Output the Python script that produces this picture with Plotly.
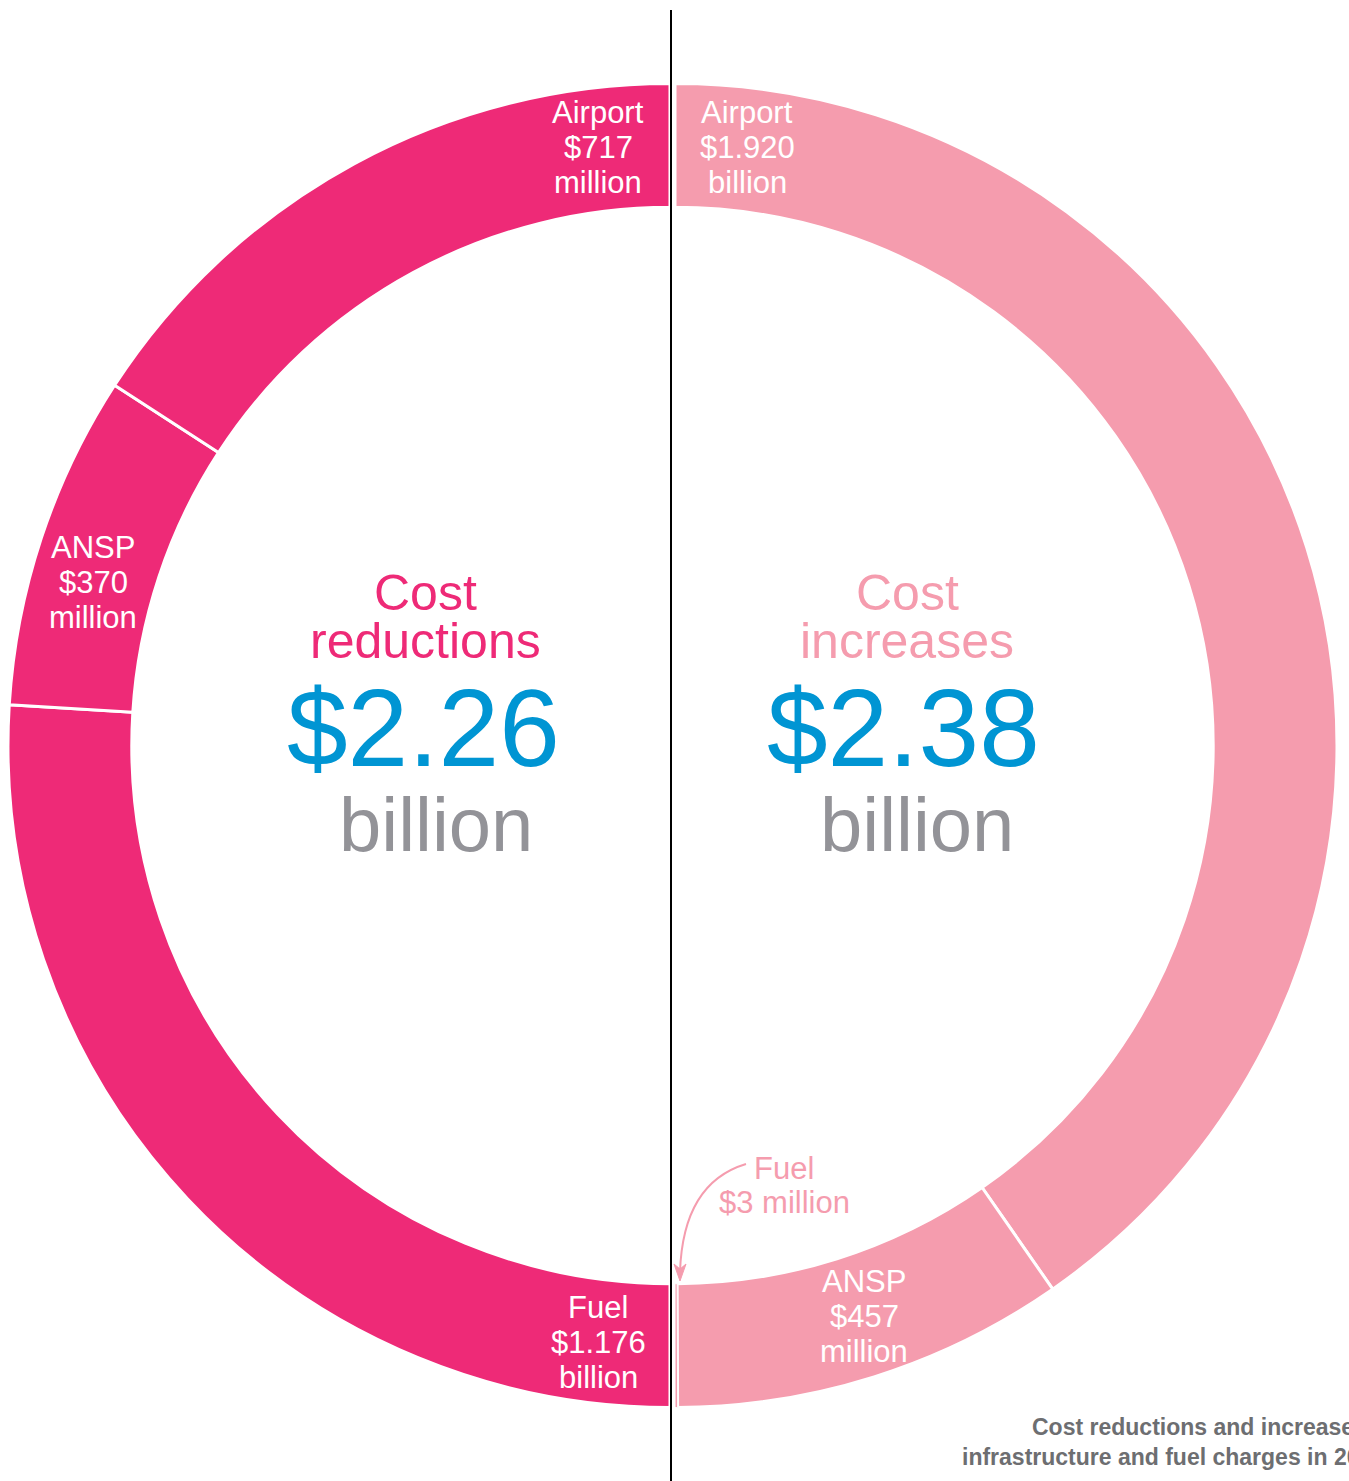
import plotly.graph_objects as go

# ---- data ----
categories = ["Airport", "ANSP", "Fuel"]
reduction_values = [717, 370, 1176]          # $ million
increase_values = [1920, 457, 3]             # $ million
reduction_labels = [["$717", "million"], ["$370", "million"], ["$1.176", "billion"]]
increase_labels = [["$1.920", "billion"], ["$457", "million"], ["$3 million"]]
reduction_total = "$2.26"
increase_total = "$2.38"

W, H = 1349, 1481
MAGENTA = "#EE2A77"
PINK = "#F59CAE"
BLUE = "#0095D3"
GREY = "#939398"
FONT = "Liberation Sans, Arial, sans-serif"

R = 662
CY = 745.5
HOLE = 0.813
CLEAR = "rgba(0,0,0,0)"


def dom(cx):
    return dict(x=[(cx - R) / W, (cx + R) / W], y=[1 - (CY + R) / H, 1 - (CY - R) / H])


fig = go.Figure()

# left half: clockwise from 12 o'clock -> hidden pad (right half), then Fuel, ANSP, Airport
left_vals = [sum(reduction_values)] + reduction_values[::-1]
fig.add_trace(go.Pie(
    values=left_vals,
    labels=["pad_l"] + [c + " (reduction)" for c in categories[::-1]],
    sort=False, direction="clockwise", rotation=0, hole=HOLE,
    marker=dict(colors=[CLEAR] + [MAGENTA] * 3,
                line=dict(color=[CLEAR] + ["white"] * 3, width=[0, 3, 3, 3])),
    textinfo="none", hoverinfo="skip", showlegend=False, domain=dom(670),
))
# right half: clockwise from 12 o'clock
fig.add_trace(go.Pie(
    values=increase_values + [sum(increase_values)],
    labels=[c + " (increase)" for c in categories] + ["pad_r"],
    sort=False, direction="clockwise", rotation=0, hole=HOLE,
    marker=dict(colors=[PINK] * 3 + [CLEAR],
                line=dict(color=["white"] * 3 + [CLEAR], width=[3, 3, 1, 0])),
    textinfo="none", hoverinfo="skip", showlegend=False, domain=dom(675),
))
# invisible trace to establish pixel-like axes
fig.add_trace(go.Scatter(x=[0, W], y=[0, H], mode="markers", marker=dict(opacity=0),
                         hoverinfo="skip", showlegend=False))

ann = []


def txt(x, y, t, size, color, **kw):
    d = dict(x=x, y=y, xref="x", yref="y", text=t, showarrow=False,
             font=dict(family=FONT, size=size, color=color), xanchor="center", yanchor="middle")
    d.update(kw)
    ann.append(d)


def block(x, y0, lines, size, color, step=35):
    for i, line in enumerate(lines):
        txt(x, y0 + i * step, line, size, color)


# slice labels
block(598, 112, [categories[0]] + reduction_labels[0], 31, "white")
block(93, 547, [categories[1]] + reduction_labels[1], 31, "white")
block(598, 1307, [categories[2]] + reduction_labels[2], 31, "white")
block(747, 112, [categories[0]] + increase_labels[0], 31, "white")
block(864, 1281, [categories[1]] + increase_labels[1], 31, "white")
block(784, 1168, [categories[2]] + increase_labels[2], 31, PINK, step=34)

# centre texts
txt(425, 593, "Cost", 50, MAGENTA)
txt(425, 641, "reductions", 50, MAGENTA)
txt(423, 728, reduction_total, 109, BLUE)
txt(436, 824, "billion", 76, GREY)
txt(907, 593, "Cost", 50, PINK)
txt(907, 641, "increases", 50, PINK)
txt(903, 728, increase_total, 109, BLUE)
txt(917, 824, "billion", 76, GREY)

# footnote (cut at right edge as in the source)
txt(1030, 1427, "<b>Cost reductions and increases in</b>", 23, "#6D6E71", xanchor="left")
txt(960, 1457, "<b>infrastructure and fuel charges in 2020</b>", 23, "#6D6E71", xanchor="left")

shapes = [
    dict(type="line", xref="x", yref="y", x0=671, x1=671, y0=10, y1=H,
         line=dict(color="black", width=2), layer="above"),
    dict(type="path", xref="x", yref="y", path="M 746 1164 Q 683 1183 680 1272",
         line=dict(color=PINK, width=2), layer="above"),
    dict(type="path", xref="x", yref="y", path="M 680 1281 L 674 1264 L 680 1269 L 686 1264 Z",
         fillcolor=PINK, line=dict(color=PINK, width=1), layer="above"),
]

fig.update_layout(
    width=W, height=H, margin=dict(l=0, r=0, t=0, b=0),
    paper_bgcolor="white", plot_bgcolor="rgba(0,0,0,0)",
    xaxis=dict(range=[0, W], visible=False, domain=[0, 1], fixedrange=True),
    yaxis=dict(range=[H, 0], visible=False, domain=[0, 1], fixedrange=True),
    annotations=ann, shapes=shapes, showlegend=False,
)

fig.write_html("out.html", config={"displayModeBar": False},
               post_script="document.body.style.margin='0';")
